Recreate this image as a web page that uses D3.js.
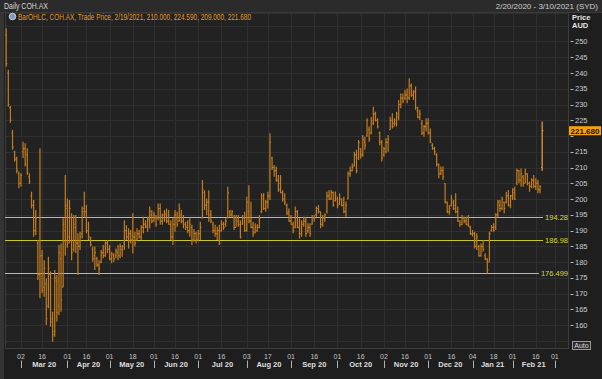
<!DOCTYPE html>
<html><head><meta charset="utf-8">
<script src="https://cdn.jsdelivr.net/npm/d3@7"></script>
<style>body{margin:0;background:#1f1f1f;} svg{display:block;}</style>
</head><body><svg id="c" width="602" height="379"></svg>
<script>
// ---- data ----
const opens = [
252,240,229,221,215,213,208,205,215,216,
214,207,201,198,190,186,176,182,172,173,
166,176,162,158,174,166,181,172,190,197,
188,194,184,191,186,185,189,197,196,190,
187,184,182,181,179,180,183,182,186,184,
181,182,182,183,182,184,186,190,188,189,
187,188,187,189,188,191,192,191,193,195,
193,194,194,197,193,194,195,193,192,188,
192,194,193,195,193,192,191,190,191,187,
189,187,189,194,202,198,199,195,192,190,
189,190,190,192,192,194,196,195,194,191,
193,192,192,194,190,196,193,191,189.5,190,
191,196,200,197,199,201,213,210,209,206,
205,202,200,198,196,193,192,191,196,191,
189,192,193,190,191,192,194,195,197,196,
192,194,196,201,200,202,199.5,200,198.5,200,
198,196,200,208,209,210.5,214,213,216,214,
218,220,222,221,224,227,225,221,218,214,
215,218,222,225,224,224,226,230,232,232,
233,232,236,233,234,228,226,224,221,223,
224,221,217,216,214,211,208,209,205,199,
196,198,199,198,196,193,192,194,193,192,
191,189,189,185,185,182,185,182,181,180,
190,191,191,195,198,197,199,199,201,198,
201,202,205,209,206,207,205,208,205,204,
206,204,205,203,210];
const highs = [
254.2,241,229.5,221.9,215.3,213.4,208.7,208.2,218.2,217.7,
216.1,208.2,202.3,199.7,196.5,187,216.1,183.8,180.6,174.8,
181.7,177,164.2,177.5,175.9,185.4,185.9,193.9,207.6,200.2,
199.7,195.5,194.9,194.9,189.1,189.6,197.6,202.3,198.1,192.8,
188,184.9,184.9,181.7,180.6,183.8,185.4,186.5,187,185.4,
183.3,182.8,184.3,185.4,185.9,185.4,193.3,191.7,190.7,190.2,
195.5,189.6,190.7,190.2,191.7,194.4,193.3,194.4,197.6,196.5,
196,194.9,198.6,198.6,195.4,196.5,197,196.5,193.3,193.9,
196.5,196,198.6,196.5,194.9,192.8,193.3,193.9,191.8,190.5,
189.6,190.2,192.8,206,202.8,200.2,202.8,196.5,192.8,191.8,
191.2,191.8,193.3,192.8,193.9,203.9,196.5,196.5,194.9,194.9,
194.9,193.3,194.9,196,200.7,204.4,199.1,192.8,192.3,192,
194.9,201.8,201.8,199.7,202.3,220.9,213.4,210.8,210.3,207.6,
207.6,202.8,201.8,198.6,197,194.9,192.8,197.6,196.5,193.9,
193.3,194.4,194.4,192.3,192.3,194.9,194.9,197.6,198.1,196,
194.9,195.4,202.3,202.8,202.9,202.4,202.4,200.7,201.8,200.2,
200.7,199.2,208.7,210.3,211.3,215,215.6,218.7,216.1,220.3,
219.8,225.6,223,226,229.3,227.7,225.6,221.4,218.7,216.6,
219.3,220.3,226.1,227.2,225.6,227.7,231.4,233.5,233.5,234.6,
235.1,238.3,236.7,234.6,235.7,229.3,228.3,225.1,223.5,225.6,
225.6,222.4,217.7,216.6,214.5,211.3,210.3,210.3,205,199.2,
198.1,201.3,199.7,201.8,197.6,193.3,194.9,194.4,194.4,194.9,
191.5,190.2,189.6,189.1,185.4,185.9,187,182.8,181.2,189.6,
191.7,192.3,195.5,199.7,199.7,200.7,199.2,202.3,202.9,201.3,
203.4,203.9,209.7,209.2,209.7,207.6,209.7,208.2,205.5,206.6,
207.6,206.6,206,204.4,224.59];
const lows = [
242,229.3,224.2,215.6,211.9,208.2,203.4,204,213,210.3,
207.6,204.8,197,188,188.6,174.3,168.5,170.1,169,160,
165.3,159.5,154.7,156.3,161.1,163.2,164.2,172,182,184.5,
186,180.6,183.3,182.8,175.9,183.8,187.5,194.4,189.1,187,
184.9,180.1,177.5,178.5,175.9,179.6,181.2,181.7,182.8,180.6,
179.6,180.1,181.2,180.6,181.2,181.7,183.8,187,184.3,185.9,
182.8,184.9,187,187.5,187,189.1,190.7,189.6,190.7,192.3,
192.8,191.2,193.3,191.8,191.8,192.8,192.3,191.8,187,185.4,
189.6,191.2,192.8,192.3,190.7,190.2,189.1,188,185.4,186.5,
185.9,186.5,187,193.9,196.5,194.9,192.8,192.3,189.1,188,
187,185.4,189.6,190.2,191.2,193.9,194.4,194.1,190.2,191.2,
191.2,187.5,191.8,189.6,189.6,192.3,190.7,188,189.1,189.6,
190.7,195.5,196.5,196,197,199.7,209.2,207.1,205.5,202.3,
201.8,199.1,198.1,194.9,192.8,191.8,189.1,190.7,190.7,187.5,
188,191.2,188,189.1,188,191.8,192.8,194.4,195.4,190.7,
191.2,192.8,195.4,199.7,199.7,197.6,199.2,197.1,198.1,197.6,
195.5,194.4,199.9,207.1,208.7,210.3,208.2,212.4,212.9,213.4,
215.6,219.8,218.2,220.5,223.5,224.6,222.4,217.1,211.9,213.4,
214.5,215,221.9,222.4,223,223,225,228.8,230.4,231.4,
230.4,231.4,232.5,231.4,228.3,225.6,225.1,220.3,219.8,221.4,
220.5,217.7,215.6,214,210.3,206.6,207.6,206,198.6,195.5,
195,197.6,196.5,195.5,192.8,191.2,191.7,192.3,191.7,191.2,
188.6,188.1,184.3,183.8,181.7,181.7,183.3,180.6,176.4,180.1,
189.6,189.6,190.2,194.4,196,196.5,195.5,198.6,197.6,197.1,
199.7,199.7,204.4,205,203.9,203.9,205,204.4,202.3,203.4,
203.4,202.9,201.8,201.8,209];
const closes = [
243,230,225,216.5,212.5,209,205,207.5,216,211,
208.5,205.5,198,190,194,176,182,171,178,162,
178,161,157,175,164,183,168,192,198,186,
197,183,192,186,185,188,196,196,190,188,
185.5,181,183,179,178,183,182,186,184,181,
182.5,181,183.5,182,185,185,190,188,189,187,
188,186,189,188,191,192,191.5,193.5,196,193,
195,192,197,193,195,195.5,193,192,188,192,
195,192,197,193,192,191,190,192,187,189,
187,189,191,203,198,199,194,193,190,189,
190,186,192,191,193,202,195,196,191,194,
192,188,194,190,199,193,191,189,191,191,
194,201,197,199,201,218,210,209,206,203,
202,200,199,195.5,193,192,190,196,191,189,
192,193,189,191,189,194,194,197,196,192,
194,195,201,200,202,198,201,198,200,198,
196,198,208,209,210,214,209,218,214,219,
217,225,219,225,227,225,223,218,213,216,
218,219,225,223,225,227,230,232,231,233,
232,236,233,234,229,226,227,221,223,224,
221,218,216,215,211,208,209,207,199,196,
197,200,197,196,193,192,194,193,192,191.5,
189,189,185,188,182,185,184,181,177.5,189,
191,190,195,199,197,200,197,201,198,201,
203,200,209,206,208,205,208,205,204,206,
204,205,203,204,221.68];
const holidays = ["2020-04-10","2020-04-13","2020-06-08","2020-12-25","2020-12-28","2021-01-01","2021-01-26"];
const firstDay = "2020-02-20", lastDay = "2021-03-10";
const levelValues = [194.28, 186.98, 176.499];
const levelLabels = ["194.28", "186.98", "176.499"];
const yTickValues = [160,165,170,175,180,185,190,195,200,205,210,215,220,225,230,235,240,245,250];
const gridValues = [155,160,165,170,175,180,185,190,195,200,205,210,215,220,225,230,235,240,245,250,255];
const lastPriceText = "221.680";
const titleText = "Daily COH.AX";
const rangeText = "2/20/2020 - 3/10/2021 (SYD)";
const legendText = "BarOHLC, COH.AX, Trade Price, 2/19/2021, 210.000, 224.590, 209.000, 221.680";

// ---- trading calendar ----
const dates = [];
for (let t = Date.parse(firstDay + "T00:00:00Z"); t <= Date.parse(lastDay + "T00:00:00Z"); t += 864e5) {
  const d = new Date(t), wd = d.getUTCDay(), k = d.toISOString().slice(0,10);
  if (wd > 0 && wd < 6 && !holidays.includes(k)) dates.push(k);
}

const W = 602, H = 379;
const P = {x0: 5, x1: 569, y0: 12.5, y1: 349};
const FONT = "'Liberation Sans', Arial, sans-serif";

const x = d3.scalePoint().domain(dates).range([6.2, 569.6]);
const y = d3.scaleLinear().domain([152.4, 259.2]).range([P.y1, P.y0]);

const svg = d3.select("#c");
svg.append("rect").attr("width", W).attr("height", H).attr("fill", "#1e1e1e");
svg.append("rect").attr("x", 0).attr("y", 0).attr("width", W).attr("height", 12).attr("fill", "#2b2b2b");
svg.append("rect").attr("x", 0).attr("y", 12).attr("width", 4).attr("height", H - 12).attr("fill", "#343434");
svg.append("rect").attr("x", P.x0).attr("y", P.y0).attr("width", P.x1 - P.x0).attr("height", P.y1 - P.y0).attr("fill", "#222222");

// clip
svg.append("clipPath").attr("id", "pc").append("rect")
  .attr("x", P.x0).attr("y", P.y0).attr("width", P.x1 - P.x0).attr("height", P.y1 - P.y0);

// date ticks
const months = d3.groups(dates, d => d.slice(0,7));
const starts = [], mids = [];
months.forEach(([m, ds], mi) => {
  if (mi === 0) return;
  starts.push(ds[0]);
  const mid = ds.find(d => +d.slice(8,10) >= 16);
  if (mid) mids.push(mid);
});
const allTicks = starts.concat(mids);

const grid = svg.append("g").attr("clip-path", "url(#pc)");
grid.selectAll("line.h").data(gridValues).join("line")
  .attr("x1", P.x0).attr("x2", P.x1)
  .attr("y1", d => Math.round(y(d)) + 0.5).attr("y2", d => Math.round(y(d)) + 0.5)
  .attr("stroke", "#2f2f2f").attr("stroke-width", 1);
grid.selectAll("line.v").data(allTicks).join("line")
  .attr("x1", d => Math.round(x(d)) + 0.5).attr("x2", d => Math.round(x(d)) + 0.5)
  .attr("y1", P.y0).attr("y2", P.y1)
  .attr("stroke", "#2f2f2f").attr("stroke-width", 1);

// plot border
svg.append("rect").attr("x", P.x0 + 0.5).attr("y", P.y0 + 0.5).attr("width", P.x1 - P.x0 - 1).attr("height", P.y1 - P.y0 - 1)
  .attr("fill", "none").attr("stroke", "#3c3c3c");

// level lines
const lv = svg.append("g");
levelValues.forEach((v, i) => {
  const yy = Math.round(y(v)) + 0.5;
  const t = lv.append("text").attr("x", 568).attr("y", yy + 2.6).attr("text-anchor", "end")
    .attr("font-family", FONT).attr("font-size", "7.5px").attr("fill", "#d9d936").text(levelLabels[i]);
  const tw = t.node().getComputedTextLength();
  lv.insert("line", "text").attr("x1", P.x0).attr("x2", 568 - tw - 2).attr("y1", yy).attr("y2", yy)
    .attr("stroke", "#c8c828").attr("stroke-width", 1);
});

// OHLC bars
const bars = opens.map((o, i) => ({d: dates[i], o, h: highs[i], l: lows[i], c: closes[i], last: i === opens.length - 1}));
svg.append("g").attr("clip-path", "url(#pc)").selectAll("path").data(bars).join("path")
  .attr("d", b => {
    const xx = x(b.d);
    return `M${xx},${y(b.h)}V${y(b.l)}M${xx - 1.1},${y(b.o)}H${xx}M${xx},${y(b.c)}H${xx + 1.1}`;
  })
  .attr("fill", "none")
  .attr("stroke", b => b.last ? "#f0a030" : "#c47d1e")
  .attr("stroke-width", 1.2);

// right axis
const ly = y(closes[closes.length - 1]);
const visibleTicks = yTickValues.filter(v => Math.abs(y(v) - ly) > 6);
const ax = svg.append("g");
ax.selectAll("line").data(yTickValues).join("line")
  .attr("x1", 570.5).attr("x2", 573.5).attr("y1", d => Math.round(y(d)) + 0.5).attr("y2", d => Math.round(y(d)) + 0.5)
  .attr("stroke", "#b8b8b8");
ax.selectAll("text").data(visibleTicks).join("text")
  .attr("x", 575).attr("y", d => y(d) + 2.6)
  .attr("font-family", FONT).attr("font-size", "7.5px").attr("fill", "#c9ccd2").text(d => d);
svg.append("text").attr("x", 572).attr("y", 19.5).attr("font-family", FONT).attr("font-size", "7.5px")
  .attr("font-weight", "bold").attr("fill", "#e6e6e6").text("Price");
svg.append("text").attr("x", 572).attr("y", 28).attr("font-family", FONT).attr("font-size", "7.5px")
  .attr("font-weight", "bold").attr("fill", "#e6e6e6").text("AUD");

// last price box
svg.append("rect").attr("x", 569).attr("y", ly - 4.5).attr("width", 32).attr("height", 9).attr("fill", "#f4a20c");
svg.append("text").attr("x", 585).attr("y", ly + 3).attr("text-anchor", "middle")
  .attr("font-family", FONT).attr("font-size", "8px").attr("font-weight", "bold").attr("fill", "#151515").text(lastPriceText);

// Auto button
svg.append("rect").attr("x", 572.5).attr("y", 341.5).attr("width", 18).attr("height", 8).attr("fill", "#2a2a2a").attr("stroke", "#9a9a9a");
svg.append("text").attr("x", 581.5).attr("y", 348).attr("text-anchor", "middle").attr("font-family", FONT)
  .attr("font-size", "7px").attr("fill", "#dcdcdc").text("Auto");

// bottom axis
const bx = svg.append("g");
bx.selectAll("text.day").data(allTicks).join("text")
  .attr("x", d => x(d)).attr("y", 358.5).attr("text-anchor", "middle")
  .attr("font-family", FONT).attr("font-size", "7px").attr("fill", "#c4c4c4").text(d => d.slice(8,10));
bx.selectAll("line.mk").data(starts).join("line")
  .attr("x1", d => Math.round(x(d)) + 0.5).attr("x2", d => Math.round(x(d)) + 0.5)
  .attr("y1", 360.5).attr("y2", 368)
  .attr("stroke", "#b0b0b0");
const fmt = d3.utcFormat("%b %y");
const monthLabels = starts.slice(0, -1).map((s, i) => ({s, e: starts[i + 1]}));
bx.selectAll("text.mo").data(monthLabels).join("text")
  .attr("x", m => (x(m.s) + x(m.e)) / 2).attr("y", 367).attr("text-anchor", "middle")
  .attr("font-family", FONT).attr("font-size", "7.5px").attr("font-weight", "bold").attr("fill", "#dedede")
  .text(m => fmt(new Date(m.s + "T00:00:00Z")));

// header
svg.append("text").attr("x", 4).attr("y", 9).attr("font-family", FONT).attr("font-size", "8.5px")
  .attr("fill", "#d6d6d6").attr("textLength", 44).attr("lengthAdjust", "spacingAndGlyphs").text(titleText);
svg.append("text").attr("x", 598).attr("y", 9).attr("text-anchor", "end").attr("font-family", FONT).attr("font-size", "8px")
  .attr("fill", "#cfcfcf").text(rangeText);
svg.append("line").attr("x1", 0).attr("x2", W).attr("y1", 12.5).attr("y2", 12.5).attr("stroke", "#3a3a3a");

// legend
svg.append("circle").attr("cx", 12.5).attr("cy", 16.5).attr("r", 3.3).attr("fill", "#7f9bbd").attr("stroke", "#dfe6ee").attr("stroke-width", 0.8);
svg.append("text").attr("x", 18).attr("y", 19.8).attr("font-family", FONT).attr("font-size", "8.5px")
  .attr("fill", "#e39a2c").attr("textLength", 233).attr("lengthAdjust", "spacingAndGlyphs").text(legendText);
</script></body></html>
